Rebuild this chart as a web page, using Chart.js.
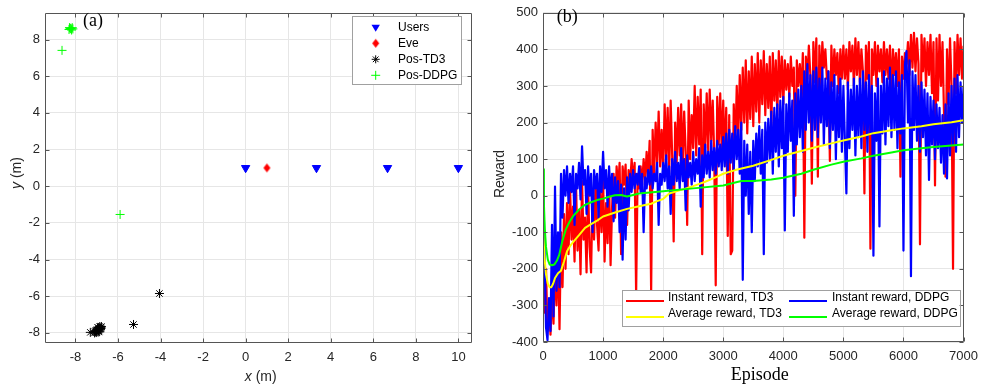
<!DOCTYPE html>
<html>
<head>
<meta charset="utf-8">
<script src="https://cdn.jsdelivr.net/npm/chart.js@4.4.1/dist/chart.umd.min.js"></script>
<style>
  html, body { margin: 0; padding: 0; background: #fff; }
  #wrap { position: relative; width: 985px; height: 388px; }
  canvas { position: absolute; top: 0; }
  #posChart { left: 0; }
  #rewardChart { left: 490px; }
</style>
</head>
<body>
<div id="wrap">
  <canvas id="posChart" width="490" height="388"></canvas>
  <canvas id="rewardChart" width="495" height="388"></canvas>
</div>
<script>
// ---------- panel (a): positions ----------
const usersPos = [[0, 1], [3.33, 1], [6.67, 1], [10, 1]];
const evePos = [[1, 1]];
const td3Pos = [
    [-4.05, -5.85], [-5.27, -7.54], [-7.3, -7.97],
    [-7.1, -8.0], [-7.05, -7.95], [-7.0, -7.9], [-6.95, -7.85], [-6.9, -7.8],
    [-6.85, -7.75], [-6.8, -7.7], [-6.78, -7.65], [-7.05, -7.88], [-6.98, -7.82],
    [-6.92, -7.72], [-6.88, -7.9], [-7.0, -7.98], [-6.82, -7.8], [-6.95, -7.7],
    [-6.86, -7.66], [-7.08, -7.92], [-6.9, -7.95], [-6.8, -7.76]
];
const ddpgPos = [
    [-8.63, 7.41], [-5.9, -1.54],
    [-8.3, 8.55], [-8.25, 8.62], [-8.2, 8.58], [-8.15, 8.65], [-8.28, 8.65],
    [-8.18, 8.52], [-8.22, 8.6], [-8.12, 8.58]
];
const posXTicks = [-8, -6, -4, -2, 0, 2, 4, 6, 8, 10];
const posYTicks = [-8, -6, -4, -2, 0, 2, 4, 6, 8];
const posXRange = [-9.43, 10.64];
const posYRange = [-8.55, 9.46];

// ---------- panel (b): rewards ----------
const EP_STEP = 25;
const td3Instant = [
    -120, -320, -200, -370, -300, -380, -260, -350, -180, -300,
    -150, -365, -100, -250, -50, -200, -20, -160, 20, -120,
    -30, -180, 30, -150, -40, -215, 40, -120, -60, -210,
    30, -140, -210, 0, -120, 40, -80, -150, 20, -100,
    50, -180, -20, -130, 40, -190, -30, 60, -60, 80,
    20, 90, -160, 80, 30, 85, -80, 70, 30, 100,
    40, 90, -270, 60, 20, 80, 30, 100, 40, 120,
    50, 150, -265, 180, 60, 200, 90, 230, 80, 180,
    70, 250, 100, 240, 60, 260, 110, -125, 200, 90,
    240, 110, 250, 80, 230, 120, -80, 260, 100, 220,
    130, 300, 110, 270, 140, 290, -160, 250, 130, 280,
    120, 290, 150, 260, 110, -245, 270, 140, 280, 120,
    260, 100, 240, -110, 220, -160, -150, 250, 130, 300,
    160, 330, 180, 350, 200, 370, 170, 340, 210, 380,
    190, 360, 230, 390, 200, 370, 250, 395, 220, 360,
    240, 380, 180, 390, 260, 370, 220, 395, 270, 380,
    250, 370, 290, 360, 270, 380, 300, 350, 0, 370,
    300, 360, 280, 390, -115, 380, 320, 410, 330, 33,
    420, 310, 430, 52, 410, 300, 420, 350, 400, 320,
    340, 95, 410, 300, 400, 330, 390, 280, 400, 320,
    410, 320, 400, 290, 420, 340, 410, 300, 430, 330,
    420, 310, 400, 340, 6, 410, 320, 420, -145, 400,
    330, 420, 300, 410, 340, 400, 310, 420, 330, 400,
    320, 410, 280, 400, 330, 390, 300, 400, 52, 380,
    320, 390, 360, 420, 330, 440, 350, 445, 340, 430,
    360, -133, 440, 340, 430, 300, 420, 330, 440, 280,
    420, 28, 430, 260, 440, 300, 420, 220, 52, 400,
    250, 430, 300, -200, 420, 280, 440, 330, 430, 320,
    410
];
const ddpgInstant = [
    70, -150, -360, -395, -280, -370, -80, -330, 25, -260,
    -100, -250, 60, -60, 70, 0, 80, -20, 60, 10,
    80, -80, 60, 20, 90, -10, 135, 30, 70, -50,
    80, 0, 60, -100, 70, 20, 60, -60, 80, 10,
    120, 20, 70, -30, 80, 0, 60, -70, 50, -20,
    40, -100, 30, -175, 20, -120, 50, -40, 60, 10,
    70, 20, 60, 30, 80, 10, 60, -100, 50, 20,
    70, 30, 80, 20, 60, 40, 90, -80, 60, 30,
    90, 40, 110, 20, 80, -50, 100, 30, 120, 40,
    90, 20, 130, 40, 100, -40, 110, 50, 90, 30,
    120, 40, 100, 60, 130, -30, 110, 50, 140, 60,
    120, 50, 150, 70, 130, 60, 150, 80, 140, 70,
    160, 80, 170, 60, 180, 90, 170, 70, 190, 100,
    180, 60, 200, -230, 150, 0, 140, -50, 120, -100,
    150, 40, 170, 80, 190, 60, 180, -160, 200, 90,
    210, 100, 230, 60, 240, 120, 250, 80, 260, 130,
    270, -95, 250, 120, 280, 150, 260, -55, 280, 140,
    290, 160, 300, 120, 340, 180, 360, 200, 330, 150,
    340, 180, 350, 160, 320, 200, 350, 140, 320, 190,
    340, 130, 310, 180, 330, 100, 300, 160, 320, 120,
    300, 150, 6, 310, 130, 290, 180, 320, 110, 300,
    160, 320, 130, 340, 180, 310, 120, 330, 170, 300,
    -164, 280, 150, 320, -84, 300, 170, 340, 140, 320,
    190, 350, 160, 330, 180, 340, 130, 310, 170, 330,
    -150, 360, 395, 200, 370, -220, 340, 180, 330, 150,
    300, 120, 310, 160, 290, 110, 280, 43, 270, 140,
    260, 100, 250, 130, 240, 90, 220, 60, 250, 47,
    280, 110, 300, 140, 320, 120, 330, 160, 310, 200,
    300
];
const td3AvgEp = [0, 20, 50, 80, 110, 140, 170, 200, 250, 300, 350, 400, 450, 500, 600, 700, 800, 900, 1000,
    1200, 1400, 1600, 1800, 1900, 2000, 2100, 2300, 2500, 2700, 2900, 3000, 3200, 3500, 3800, 4000,
    4300, 4500, 4800, 5000, 5300, 5500, 5800, 6000, 6300, 6500, 6800, 7000];
const td3Avg = [-60, -160, -215, -240, -250, -250, -240, -225, -212, -205, -180, -152, -138, -127, -108, -88, -78, -68, -57,
    -46, -36, -29, -22, -15, -9, 6, 16, 26, 38, 52, 60, 70, 82, 98, 109,
    122, 131, 143, 151, 162, 171, 179, 184, 190, 195, 201, 206];
const ddpgAvgEp = [0, 15, 30, 50, 80, 110, 150, 190, 230, 270, 320, 380, 440, 500, 600, 700, 800, 900, 1000,
    1100, 1200, 1300, 1400, 1600, 2000, 2500, 3000, 3300, 3500, 3800, 4000, 4300, 4500, 4800, 5000,
    5300, 5500, 5800, 6000, 6300, 6500, 6800, 7000];
const ddpgAvg = [72, -20, -90, -140, -175, -188, -190, -188, -178, -162, -125, -92, -72, -56, -38, -25, -18, -12, -8,
    -3, 1, 2, -2, 6, 12, 20, 28, 40, 40, 44, 49, 60, 71, 85, 93,
    102, 109, 118, 124, 130, 133, 137, 140];
const rewardXTicks = [0, 1000, 2000, 3000, 4000, 5000, 6000, 7000];
const rewardYTicks = [-400, -300, -200, -100, 0, 100, 200, 300, 400, 500];

const SANS = '"Liberation Sans", Arial, sans-serif';
const SERIF = '"Liberation Serif", "Times New Roman", serif';
const TEXT_COLOR = '#262626';
const GRID_COLOR = '#e6e6e6';
const FRAME_COLOR = '#555555';
const TICK_LEN = 4;

const toXY = pts => pts.map(p => ({ x: p[0], y: p[1] }));
const zip = (xs, ys) => xs.map((x, i) => ({ x: x, y: ys[i] }));
const episodes = td3Instant.map((_, i) => i * EP_STEP);

// diamond marker, a bit taller than wide like MATLAB's
function diamondImage(w, h, color) {
    const c = document.createElement('canvas');
    c.width = w + 2; c.height = h + 2;
    const g = c.getContext('2d');
    g.fillStyle = color;
    g.beginPath();
    g.moveTo(c.width / 2, 1);
    g.lineTo(c.width - 1, c.height / 2);
    g.lineTo(c.width / 2, c.height - 1);
    g.lineTo(1, c.height / 2);
    g.closePath();
    g.fill();
    return c;
}
const eveMarker = diamondImage(7, 9, '#ff0000');

function drawFrame(chart) {
    const { ctx, chartArea: a, scales } = chart;
    const L = Math.round(a.left) + 0.5, R = Math.round(a.right) - 0.5;
    const T = Math.round(a.top) + 0.5, B = Math.round(a.bottom) - 0.5;
    ctx.save();
    ctx.strokeStyle = FRAME_COLOR;
    ctx.lineWidth = 1;
    ctx.beginPath();
    scales.x.ticks.forEach(t => {
        const px = Math.round(scales.x.getPixelForValue(t.value)) + 0.5;
        ctx.moveTo(px, B); ctx.lineTo(px, B - TICK_LEN);
        ctx.moveTo(px, T); ctx.lineTo(px, T + TICK_LEN);
    });
    scales.y.ticks.forEach(t => {
        const py = Math.round(scales.y.getPixelForValue(t.value)) + 0.5;
        ctx.moveTo(L, py); ctx.lineTo(L + TICK_LEN, py);
        ctx.moveTo(R, py); ctx.lineTo(R - TICK_LEN, py);
    });
    ctx.rect(L, T, R - L, B - T);
    ctx.stroke();
    ctx.restore();
}

// "x (m)" with italic letter
function drawUnitLabel(ctx, letter, cx, cy, angle) {
    ctx.save();
    ctx.translate(cx, cy);
    ctx.rotate(angle);
    ctx.fillStyle = TEXT_COLOR;
    ctx.textBaseline = 'middle';
    ctx.font = 'italic 14px ' + SANS;
    const w1 = ctx.measureText(letter).width;
    ctx.font = '14px ' + SANS;
    const w2 = ctx.measureText(' (m)').width;
    let x = -(w1 + w2) / 2;
    ctx.font = 'italic 14px ' + SANS;
    ctx.textAlign = 'left';
    ctx.fillText(letter, x, 0);
    ctx.font = '14px ' + SANS;
    ctx.fillText(' (m)', x + w1, 0);
    ctx.restore();
}

function legendBox(ctx, x, y, w, h) {
    ctx.fillStyle = '#ffffff';
    ctx.fillRect(x, y, w, h);
    ctx.strokeStyle = '#a0a0a0';
    ctx.lineWidth = 1;
    ctx.strokeRect(Math.round(x) + 0.5, Math.round(y) + 0.5, Math.round(w), Math.round(h));
}

const posDecor = {
    id: 'posDecor',
    afterDraw(chart) {
        const ctx = chart.ctx;
        drawFrame(chart);
        ctx.save();
        // panel tag
        ctx.fillStyle = '#000';
        ctx.font = '18px ' + SERIF;
        ctx.textBaseline = 'middle';
        ctx.fillText('(a)', 83, 21);
        drawUnitLabel(ctx, 'x', 260.7, 377, 0);
        drawUnitLabel(ctx, 'y', 17.5, 173, -Math.PI / 2);

        // legend
        legendBox(ctx, 351.7, 16, 109.3, 68.3);
        const mx = 375.7;
        // triangle down
        ctx.fillStyle = '#0000ff';
        ctx.beginPath();
        ctx.moveTo(mx - 4.2, 27.3 - 2.6);
        ctx.lineTo(mx + 4.2, 27.3 - 2.6);
        ctx.lineTo(mx, 27.3 + 4.4);
        ctx.closePath();
        ctx.fill();
        // diamond
        ctx.drawImage(eveMarker, mx - eveMarker.width / 2, 43.3 - eveMarker.height / 2);
        // asterisk
        ctx.strokeStyle = '#000';
        ctx.lineWidth = 1;
        ctx.beginPath();
        const r = 4, d = r * Math.SQRT1_2;
        ctx.moveTo(mx - r, 59.3); ctx.lineTo(mx + r, 59.3);
        ctx.moveTo(mx, 59.3 - r); ctx.lineTo(mx, 59.3 + r);
        ctx.moveTo(mx - d, 59.3 - d); ctx.lineTo(mx + d, 59.3 + d);
        ctx.moveTo(mx - d, 59.3 + d); ctx.lineTo(mx + d, 59.3 - d);
        ctx.stroke();
        // plus
        ctx.strokeStyle = '#00ff00';
        ctx.beginPath();
        ctx.moveTo(mx - 4.5, 75.3); ctx.lineTo(mx + 4.5, 75.3);
        ctx.moveTo(mx, 75.3 - 4.5); ctx.lineTo(mx, 75.3 + 4.5);
        ctx.stroke();

        ctx.fillStyle = '#000';
        ctx.font = '12px ' + SANS;
        ctx.textBaseline = 'middle';
        ctx.fillText('Users', 398, 27.3);
        ctx.fillText('Eve', 398, 43.3);
        ctx.fillText('Pos-TD3', 398, 59.3);
        ctx.fillText('Pos-DDPG', 398, 75.3);
        ctx.restore();
    }
};

const rewardDecor = {
    id: 'rewardDecor',
    afterDraw(chart) {
        const ctx = chart.ctx;
        drawFrame(chart);
        ctx.save();
        ctx.fillStyle = '#000';
        ctx.font = '18px ' + SERIF;
        ctx.textBaseline = 'middle';
        ctx.fillText('(b)', 66.7, 17);

        ctx.fillStyle = '#000';
        ctx.font = '18px ' + SERIF;
        ctx.textAlign = 'center';
        ctx.textBaseline = 'alphabetic';
        ctx.fillText('Episode', 269.7, 380);

        ctx.save();
        ctx.translate(10, 174);
        ctx.rotate(-Math.PI / 2);
        ctx.fillStyle = TEXT_COLOR;
        ctx.font = '14px ' + SANS;
        ctx.textBaseline = 'middle';
        ctx.fillText('Reward', 0, 0);
        ctx.restore();

        // legend
        legendBox(ctx, 131.7, 290, 337.6, 36);
        const rows = [
            [136, 178, 301, '#ff0000', 'Instant reward, TD3'],
            [299, 342, 301, '#0000ff', 'Instant reward, DDPG'],
            [136, 178, 317, '#ffff00', 'Average reward, TD3'],
            [299, 342, 317, '#00ff00', 'Average reward, DDPG']
        ];
        ctx.textAlign = 'left';
        ctx.font = '12px ' + SANS;
        rows.forEach(([lx, tx, ly, col, txt]) => {
            ctx.strokeStyle = col;
            ctx.lineWidth = 2;
            ctx.beginPath();
            ctx.moveTo(lx, ly); ctx.lineTo(lx + 38, ly);
            ctx.stroke();
            ctx.fillStyle = '#000';
            ctx.fillText(txt, tx, ly);
        });
        ctx.restore();
    }
};

function axisOpts(range, tickList, fitSize, isX) {
    return {
        type: 'linear',
        min: range[0],
        max: range[1],
        afterBuildTicks: s => { s.ticks = tickList.map(v => ({ value: v })); },
        afterFit: s => { if (isX) s.height = fitSize; else s.width = fitSize; },
        grid: { color: GRID_COLOR, drawTicks: false, lineWidth: 1 },
        border: { display: false },
        ticks: {
            color: TEXT_COLOR,
            font: { family: SANS, size: 13 },
            padding: isX ? 7 : 5,
            maxRotation: 0,
            autoSkip: false,
            callback: v => String(v)
        }
    };
}

new Chart(document.getElementById('posChart'), {
    type: 'scatter',
    data: {
        datasets: [
            {
                label: 'Users', data: toXY(usersPos),
                pointStyle: 'triangle', pointRotation: 180, pointRadius: 4.8,
                pointBackgroundColor: '#0000ff', pointBorderColor: '#0000ff', pointBorderWidth: 1
            },
            {
                label: 'Eve', data: toXY(evePos),
                pointStyle: eveMarker, pointRadius: 5
            },
            {
                label: 'Pos-TD3', data: toXY(td3Pos),
                pointStyle: 'star', pointRadius: 4.5,
                pointBorderColor: '#000000', pointBorderWidth: 1, pointBackgroundColor: '#000000'
            },
            {
                label: 'Pos-DDPG', data: toXY(ddpgPos),
                pointStyle: 'cross', pointRadius: 4.5,
                pointBorderColor: '#00ff00', pointBorderWidth: 1
            }
        ]
    },
    options: {
        responsive: false,
        animation: false,
        events: [],
        layout: { padding: { left: 0, right: 18, top: 5, bottom: 0 } },
        plugins: { legend: { display: false }, tooltip: { enabled: false } },
        scales: {
            x: axisOpts(posXRange, posXTicks, 45, true),
            y: axisOpts(posYRange, posYTicks, 45, false)
        }
    },
    plugins: [posDecor]
});

const lineStyle = { pointRadius: 0, tension: 0, borderJoinStyle: 'round', fill: false };

new Chart(document.getElementById('rewardChart'), {
    type: 'line',
    data: {
        datasets: [
            Object.assign({ label: 'Average reward, DDPG', data: zip(ddpgAvgEp, ddpgAvg), borderColor: '#00ff00', borderWidth: 2 }, lineStyle),
            Object.assign({ label: 'Average reward, TD3', data: zip(td3AvgEp, td3Avg), borderColor: '#ffff00', borderWidth: 2 }, lineStyle),
            Object.assign({ label: 'Instant reward, DDPG', data: zip(episodes, ddpgInstant), borderColor: '#0000ff', borderWidth: 2.2 }, lineStyle),
            Object.assign({ label: 'Instant reward, TD3', data: zip(episodes, td3Instant), borderColor: '#ff0000', borderWidth: 2.2 }, lineStyle)
        ]
    },
    options: {
        responsive: false,
        animation: false,
        events: [],
        layout: { padding: { left: 0, right: 14, top: 5, bottom: 0 } },
        plugins: { legend: { display: false }, tooltip: { enabled: false } },
        scales: {
            x: axisOpts([0, 7000], rewardXTicks, 46, true),
            y: axisOpts([-400, 500], rewardYTicks, 53, false)
        }
    },
    plugins: [rewardDecor]
});
</script>
</body>
</html>
